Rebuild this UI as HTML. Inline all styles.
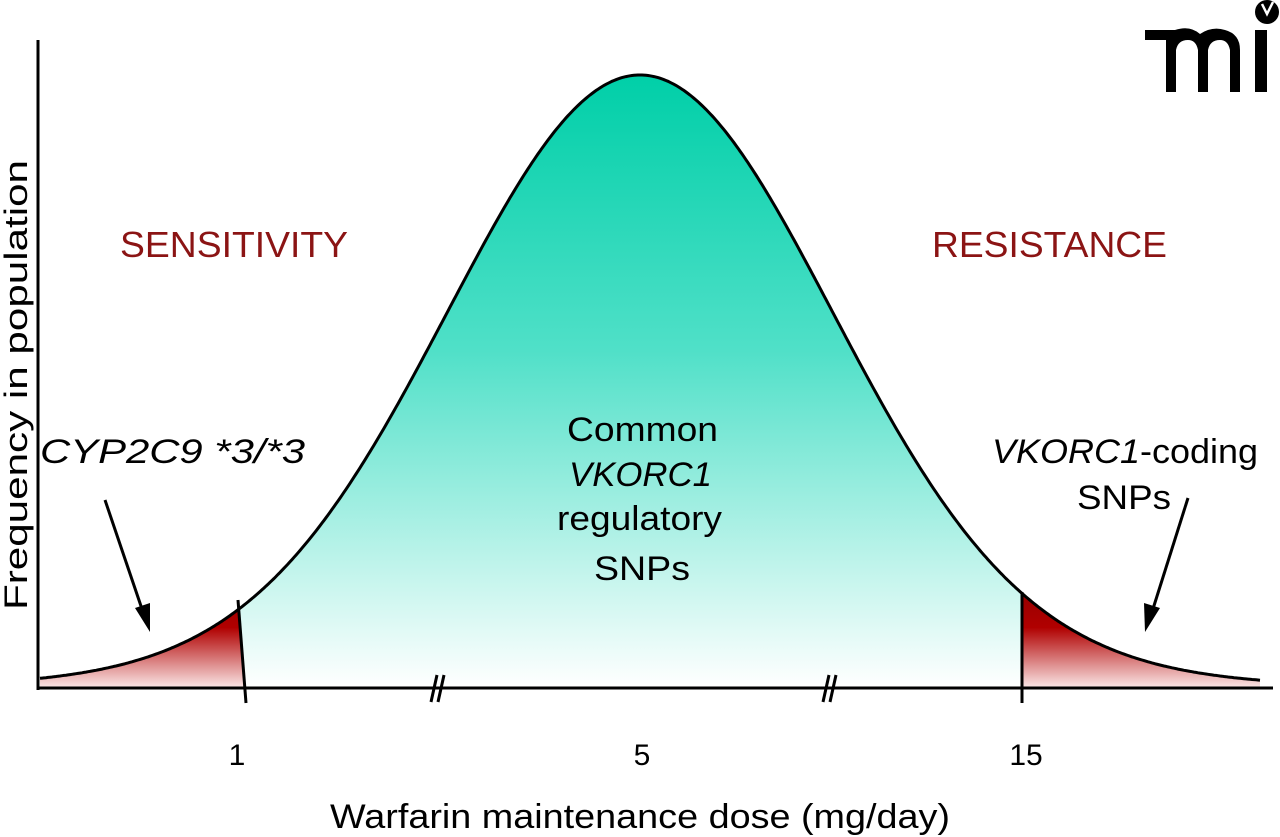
<!DOCTYPE html>
<html><head><style>body{margin:0;background:#fff}svg{display:block}text{font-family:"Liberation Sans",sans-serif}</style></head><body>
<svg width="1280" height="837" viewBox="0 0 1280 837" xmlns="http://www.w3.org/2000/svg">
<defs>
<linearGradient id="tg" x1="0" y1="75" x2="0" y2="688" gradientUnits="userSpaceOnUse">
<stop offset="0" stop-color="#00cfa8"/><stop offset="0.45" stop-color="#50e0c8"/><stop offset="1" stop-color="#ffffff"/></linearGradient>
<linearGradient id="rg" x1="0" y1="595" x2="0" y2="688" gradientUnits="userSpaceOnUse">
<stop offset="0" stop-color="#9a0000"/><stop offset="0.35" stop-color="#b00000"/><stop offset="1" stop-color="#fbe8e8"/></linearGradient>
</defs>
<g id="c"></g>
<script>
function y(x){var d=x-640;return 688-613*(0.93*Math.exp(-d*d/(2*190*190))+0.07*Math.exp(-d*d/(2*300*300)));}
function path(a,b){var s="";for(var x=a;x<=b;x+=2){s+=(s?"L":"M")+x+","+y(x).toFixed(1);}return s;}
var g=document.getElementById('c'),ns="http://www.w3.org/2000/svg";
function add(d,f,st,w){var e=document.createElementNS(ns,'path');e.setAttribute('d',d);e.setAttribute('fill',f);if(st){e.setAttribute('stroke',st);e.setAttribute('stroke-width',w);}g.appendChild(e);}
add(path(240,1022)+"L1022,688L245,688Z","url(#tg)");
add("M40,688"+path(40,238).replace("M","L")+"L245,688Z","url(#rg)");
add(path(1022,1260)+"L1260,688L1022,688Z","url(#rg)");
add(path(40,1260),"none","#000",3);
</script>
<line x1="38" y1="40" x2="38" y2="690" stroke="#000" stroke-width="3"/>
<line x1="37" y1="688" x2="1273" y2="688" stroke="#000" stroke-width="3"/>
<line x1="238" y1="600" x2="246" y2="703" stroke="#000" stroke-width="3"/>
<line x1="1022" y1="592" x2="1022" y2="703" stroke="#000" stroke-width="3"/>
<g stroke="#000" stroke-width="3"><line x1="437" y1="675" x2="431" y2="702"/><line x1="444" y1="675" x2="438" y2="702"/><line x1="829" y1="675" x2="823" y2="702"/><line x1="836" y1="675" x2="830" y2="702"/></g>
<line x1="105" y1="500" x2="143" y2="612" stroke="#000" stroke-width="3"/>
<polygon points="150,632 135,608 150,603" fill="#000"/>
<line x1="1188" y1="498" x2="1152" y2="612" stroke="#000" stroke-width="3"/>
<polygon points="1145,632 1144,603 1160,608" fill="#000"/>
<g font-size="36" fill="#8b1414"><text x="120" y="257" textLength="228" lengthAdjust="spacingAndGlyphs">SENSITIVITY</text><text x="932" y="257" textLength="235" lengthAdjust="spacingAndGlyphs">RESISTANCE</text></g>
<g font-size="34" fill="#000">
<text x="40" y="463" font-style="italic" textLength="265" lengthAdjust="spacingAndGlyphs">CYP2C9 *3/*3</text>
<text x="567" y="441" textLength="151" lengthAdjust="spacingAndGlyphs">Common</text>
<text x="569" y="486" font-style="italic" textLength="143" lengthAdjust="spacingAndGlyphs">VKORC1</text>
<text x="557" y="530" textLength="165" lengthAdjust="spacingAndGlyphs">regulatory</text>
<text x="594" y="580" textLength="96" lengthAdjust="spacingAndGlyphs">SNPs</text>
<text x="992" y="463" textLength="266" lengthAdjust="spacingAndGlyphs"><tspan font-style="italic">VKORC1</tspan>-coding</text>
<text x="1077" y="509" textLength="94" lengthAdjust="spacingAndGlyphs">SNPs</text>
<text x="237" y="765" text-anchor="middle" font-size="30">1</text>
<text x="642" y="765" text-anchor="middle" font-size="30">5</text>
<text x="1026" y="765" text-anchor="middle" font-size="30">15</text>
<text x="330" y="828" textLength="620" lengthAdjust="spacingAndGlyphs">Warfarin maintenance dose (mg/day)</text>
<text transform="translate(27,610) rotate(-90)" font-size="32" textLength="450" lengthAdjust="spacingAndGlyphs">Frequency in population</text>
</g>
<g fill="#000">
<path d="M1145,30 L1175,30 Q1190,25 1200,34 Q1212,26 1225,30 Q1240,34 1240,50 L1240,92 L1230,92 L1230,50 Q1228,40 1220,40 Q1210,40 1208,50 L1208,92 L1198,92 L1198,50 Q1196,40 1188,40 Q1178,40 1176,50 L1176,92 L1166,92 L1166,40 L1145,40 Z"/>
<rect x="1255" y="30" width="12" height="62"/>
<circle cx="1267" cy="12" r="12"/>
</g>
<path d="M1262,4 L1267,14 L1273,2" stroke="#fff" stroke-width="2.5" fill="none"/>
</svg>
</body></html>
